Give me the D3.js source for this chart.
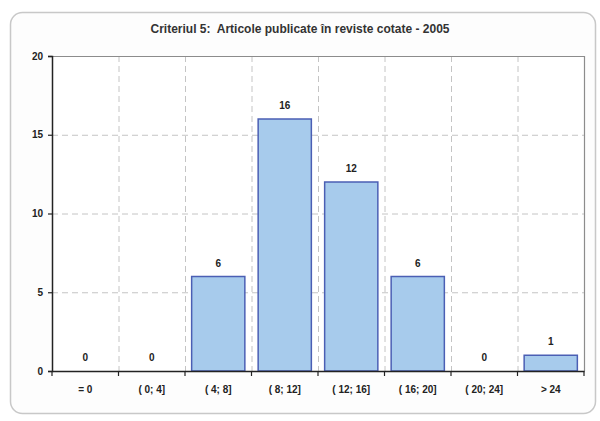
<!DOCTYPE html>
<html>
<head>
<meta charset="utf-8">
<script src="https://cdn.jsdelivr.net/npm/d3@7"></script>
<style>
  body { margin: 0; background: #fff; }
  text { font-family: "Liberation Sans", Arial, sans-serif; fill: #222; }
</style>
</head>
<body>
<div id="chart"></div>
<script>
// categorii (intervale) si numar de articole
var categorii = ['= 0', '( 0; 4]', '( 4; 8]', '( 8; 12]', '( 12; 16]', '( 16; 20]', '( 20; 24]', '> 24'];
var valori = [0, 0, 6, 16, 12, 6, 0, 1];
var yTicks = [0, 5, 10, 15, 20];
var titlu = 'Criteriul 5:  Articole publicate în reviste cotate - 2005';

var W = 600, H = 421;
var pLeft = 52, pRight = 584, pTop = 56, pBottom = 371;

var svg = d3.select('#chart').append('svg')
  .attr('width', W).attr('height', H);

// cadru exterior cu colturi rotunjite
svg.append('rect')
  .attr('x', 10.5).attr('y', 12.5)
  .attr('width', 585).attr('height', 401)
  .attr('rx', 12).attr('ry', 12)
  .attr('fill', '#fdfdfd').attr('stroke', '#c8c8c8').attr('stroke-width', 1.5);

svg.append('text')
  .attr('x', 300).attr('y', 33)
  .attr('text-anchor', 'middle')
  .style('white-space', 'pre')
  .style('font-size', '12px').style('font-weight', 'bold').style('fill', '#333')
  .text(titlu);

var x = d3.scaleBand().domain(categorii).range([pLeft, pRight]).paddingInner(0).paddingOuter(0);
var y = d3.scaleLinear().domain([0, 20]).range([pBottom, pTop]);

var g = svg.append('g');

// fundal zona grafic
g.append('rect')
  .attr('x', pLeft).attr('y', pTop)
  .attr('width', pRight - pLeft).attr('height', pBottom - pTop)
  .attr('fill', '#fff');

// grila orizontala
g.selectAll('.gh').data(yTicks.filter(function (d) { return d > 0 && d < 20; }))
  .enter().append('line')
  .attr('x1', pLeft).attr('x2', pRight)
  .attr('y1', function (d) { return y(d) + 0.5; })
  .attr('y2', function (d) { return y(d) + 0.5; })
  .attr('stroke', '#c4c4c4').attr('stroke-dasharray', '6,4');

// grila verticala
g.selectAll('.gv').data(categorii.slice(1))
  .enter().append('line')
  .attr('x1', function (d) { return x(d) + 0.5; })
  .attr('x2', function (d) { return x(d) + 0.5; })
  .attr('y1', pTop).attr('y2', pBottom)
  .attr('stroke', '#c4c4c4').attr('stroke-dasharray', '6,4');

// margini sus / dreapta
g.append('path')
  .attr('d', 'M' + pLeft + ' ' + (pTop + 0.5) + 'H' + (pRight + 0.5) + 'V' + pBottom)
  .attr('fill', 'none').attr('stroke', '#8c8c8c').attr('stroke-width', 1.2);

// bare
var bw = x.bandwidth() * 0.8;
g.selectAll('.bar').data(valori)
  .enter().append('rect')
  .attr('x', function (d, i) { return x(categorii[i]) + (x.bandwidth() - bw) / 2; })
  .attr('y', function (d) { return y(d); })
  .attr('width', bw)
  .attr('height', function (d) { return pBottom - y(d); })
  .attr('fill', '#a7cbec')
  .attr('stroke', function (d) { return d > 0 ? '#4b5fb4' : 'none'; })
  .attr('stroke-width', 1.5);

// etichete valori
g.selectAll('.val').data(valori)
  .enter().append('text')
  .attr('x', function (d, i) { return x(categorii[i]) + x.bandwidth() / 2; })
  .attr('y', function (d) { return y(d) - 10; })
  .attr('text-anchor', 'middle')
  .style('font-size', '10px').style('font-weight', 'bold')
  .text(function (d) { return d; });

// axa Y
var yAxis = d3.axisLeft(y).tickValues(yTicks).tickSize(4).tickPadding(5);
var ya = svg.append('g').attr('transform', 'translate(' + pLeft + ',0)').call(yAxis);
ya.select('.domain').attr('stroke', '#222').attr('stroke-width', 1.5);
ya.selectAll('line').attr('stroke', '#222').attr('stroke-width', 1.2);
ya.selectAll('text').style('font-size', '10px').style('font-weight', 'bold').style('fill', '#222');

// axa X
var xAxis = d3.axisBottom(x).tickSize(0).tickPadding(15);
var xa = svg.append('g').attr('transform', 'translate(0,' + pBottom + ')').call(xAxis);
xa.select('.domain').attr('stroke', '#222').attr('stroke-width', 1.5);
xa.selectAll('text').style('font-size', '10px').style('font-weight', 'bold').style('fill', '#222');

// gradatii intre categorii
xa.selectAll('.sep').data(categorii.concat(['end']))
  .enter().append('line')
  .attr('x1', function (d, i) { return pLeft + i * x.bandwidth(); })
  .attr('x2', function (d, i) { return pLeft + i * x.bandwidth(); })
  .attr('y1', 0).attr('y2', 5)
  .attr('stroke', '#222').attr('stroke-width', 1.2);
</script>
</body>
</html>
